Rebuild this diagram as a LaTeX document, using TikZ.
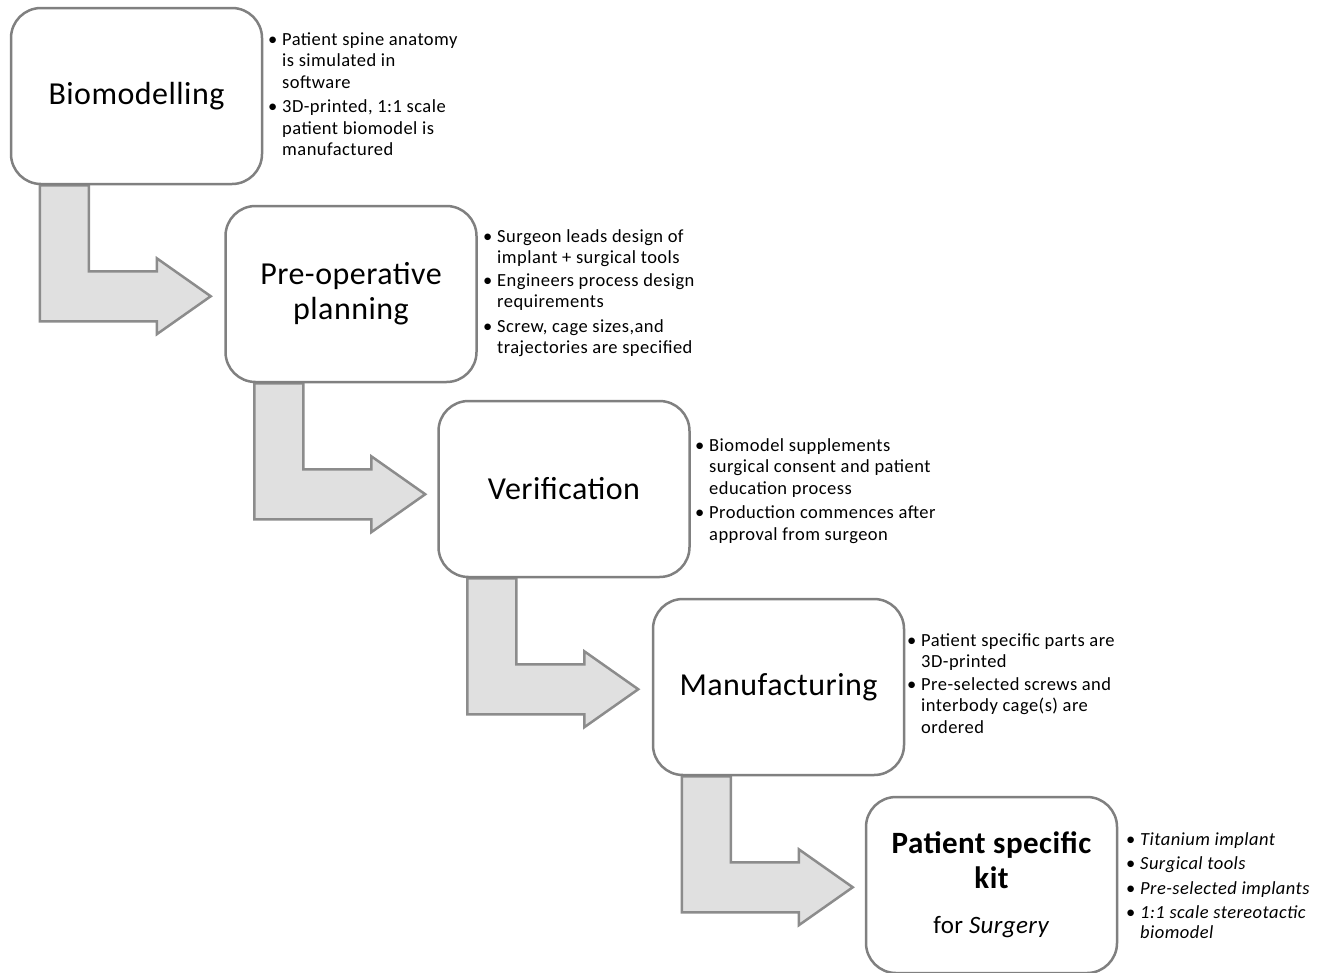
\documentclass[tikz,border=0pt]{standalone}
\usepackage{fontspec}
\setmainfont{Carlito}
\newfontfamily\titlefont{Carlito}[LetterSpace=1.5]
\newfontfamily\bulfont{Carlito}[LetterSpace=2.5]
\usetikzlibrary{calc,backgrounds}
\definecolor{boxline}{RGB}{128,128,128}
\definecolor{arrowfill}{RGB}{224,224,224}
\definecolor{arrowline}{RGB}{140,140,140}
\newcommand{\bul}{\makebox[14pt][l]{\textbullet}}
\begin{document}
\begin{tikzpicture}[x=1pt,y=-1pt,
  stage/.style={draw=boxline, line width=2.5pt, rounded corners=30pt, fill=white,
    minimum width=251pt, minimum height=176pt, inner sep=0pt, align=center,
    font=\titlefont\fontsize{32}{35}\selectfont},
  blockarrow/.style={draw=arrowline, fill=arrowfill, line width=2.5pt},
  notes/.style={anchor=base west, inner sep=0pt, font=\bulfont\fontsize{18.5}{21.5}\selectfont}
]
\useasboundingbox (0,0) rectangle (1324,972);

\node[stage] (b1) at (136.5,96) {Biomodelling};
\node[stage] (b2) at (351,294) {Pre-operative\\planning};
\node[stage] (b3) at (564,489) {Verification};
\node[stage] (b4) at (778.5,687) {Manufacturing};
\node[stage] (b5) at (991.5,885) {\fontsize{31}{35}\selectfont\bfseries Patient specific\\\fontsize{31}{35}\selectfont\bfseries kit\\[10pt]{\fontsize{25}{30}\selectfont for \textit{Surgery}}};

\begin{scope}[on background layer]
\foreach \a in {b1,b2,b3,b4}{
  \draw[blockarrow] ($(\a.south west)+(30,0)$) -- ++(0,136) -- ++(117,0) -- ++(0,13)
    -- ++(54,-38) -- ++(-54,-38) -- ++(0,13) -- ++(-68,0) -- ++(0,-86) -- cycle;
}
\end{scope}

\node[notes] (n1) at (268,45) {\begin{tabular}[t]{@{}l@{}l@{}}
\bul & Patient spine anatomy\\
 & is simulated in\\
 & software\\[3pt]
\bul & 3D-printed, 1:1 scale\\
 & patient biomodel is\\
 & manufactured
\end{tabular}};

\node[notes] (n2) at (483,242) {\begin{tabular}[t]{@{}l@{}l@{}}
\bul & Surgeon leads design of\\
 & implant + surgical tools\\[1pt]
\bul & Engineers process design\\
 & requirements\\[3pt]
\bul & Screw, cage sizes,and\\
 & trajectories are specified
\end{tabular}};

\node[notes] (n3) at (695,451) {\begin{tabular}[t]{@{}l@{}l@{}}
\bul & Biomodel supplements\\
 & surgical consent and patient\\
 & education process\\[3pt]
\bul & Production commences after\\
 & approval from surgeon
\end{tabular}};

\node[notes] (n4) at (907,646) {\begin{tabular}[t]{@{}l@{}l@{}}
\bul & Patient specific parts are\\
 & 3D-printed\\[1pt]
\bul & Pre-selected screws and\\
 & interbody cage(s) are\\
 & ordered
\end{tabular}};

\node[notes] (n5) at (1126,845) {\begin{tabular}[t]{@{}l@{}l@{}}
\bul & \textit{Titanium implant}\\[3pt]
\bul & \textit{Surgical tools}\\[3pt]
\bul & \textit{Pre-selected implants}\\[3pt]
\bul & \textit{1:1 scale stereotactic}\\[-2pt]
 & \textit{biomodel}
\end{tabular}};
\end{tikzpicture}
\end{document}
